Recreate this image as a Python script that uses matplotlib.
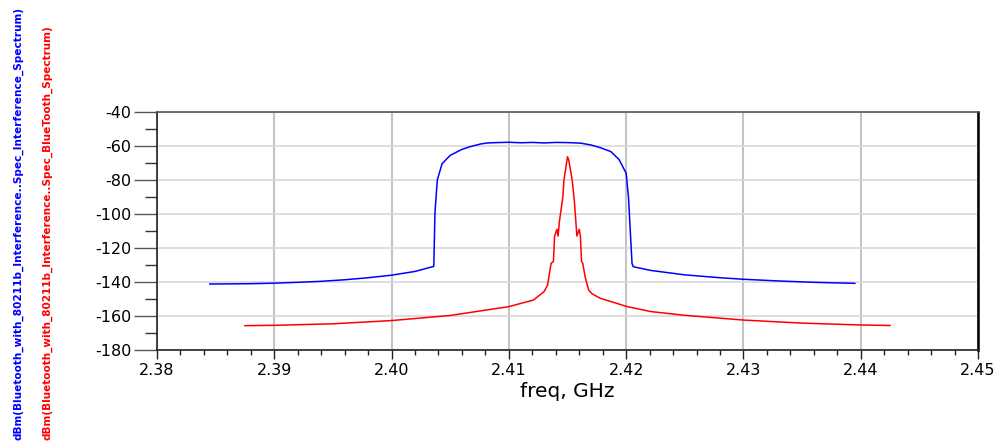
import matplotlib
matplotlib.use("Agg")
import matplotlib.pyplot as plt
from matplotlib.ticker import MultipleLocator, FormatStrFormatter

# interference (802.11b) spectrum, blue
blue_freq = [2.3845, 2.3880, 2.3900, 2.3920, 2.3940, 2.3960, 2.3980, 2.4000, 2.4020, 2.4036,
             2.4037, 2.4039, 2.4043, 2.4050, 2.4060, 2.4067, 2.4076, 2.4082, 2.4090, 2.4100,
             2.4110, 2.4120, 2.4130, 2.4140, 2.4150, 2.4161, 2.4170, 2.4178, 2.4187, 2.4194,
             2.4200, 2.4202, 2.4205, 2.4206, 2.4210, 2.4221, 2.4250, 2.4280, 2.4300, 2.4330,
             2.4360, 2.4395]
blue_dbm = [-141.2, -141.0, -140.7, -140.2, -139.6, -138.7, -137.5, -136.0, -133.8, -130.8,
            -99.0, -80.0, -70.5, -65.5, -62.0, -60.4, -58.8, -58.2, -58.0, -57.8,
            -58.1, -57.9, -58.2, -57.9, -58.0, -58.3, -59.4, -61.0, -63.3, -68.0,
            -76.0, -90.0, -129.0, -131.0, -131.6, -133.2, -135.8, -137.5, -138.4, -139.4,
            -140.2, -140.8]

# bluetooth spectrum, red
red_freq = [2.3875, 2.3900, 2.3950, 2.4000, 2.4050, 2.4100, 2.4121, 2.4130, 2.4133, 2.4136,
            2.4138, 2.4139, 2.4141, 2.4142, 2.4143, 2.4146, 2.4147, 2.4150, 2.4151, 2.4154,
            2.4156, 2.4158, 2.4160, 2.4161, 2.4162, 2.4163, 2.4165, 2.4168, 2.4171, 2.4178,
            2.4201, 2.4221, 2.4250, 2.4300, 2.4350, 2.4400, 2.4425]
red_dbm = [-165.7, -165.5, -164.6, -162.7, -159.7, -154.5, -150.6, -145.7, -141.8, -129.0,
           -128.0, -113.0, -109.0, -113.0, -105.0, -90.0, -80.0, -66.3, -68.0, -80.0,
           -93.7, -113.0, -109.0, -113.0, -128.0, -129.0, -136.9, -144.7, -147.0, -149.6,
           -154.5, -157.4, -159.6, -162.4, -164.2, -165.3, -165.6]

blue_label = "dBm(Bluetooth_with_80211b_Interference..Spec_Interference_Spectrum)"
red_label = "dBm(Bluetooth_with_80211b_Interference..Spec_BlueTooth_Spectrum)"

plt.rcParams["font.family"] = ["DejaVu Sans"]
plt.rcParams["axes.unicode_minus"] = False

fig = plt.figure(figsize=(10, 4.48), dpi=100)
ax = fig.add_axes([0.157, 0.2188, 0.821, 0.5312])

ax.plot(blue_freq, blue_dbm, color="#0000ff", lw=1.1)
ax.plot(red_freq, red_dbm, color="#ff0000", lw=1.1)

ax.set_xlim(2.38, 2.45)
ax.set_ylim(-180, -40)
ax.xaxis.set_major_locator(MultipleLocator(0.01))
ax.xaxis.set_minor_locator(MultipleLocator(0.002))
ax.yaxis.set_major_locator(MultipleLocator(20))
ax.yaxis.set_minor_locator(MultipleLocator(10))
ax.xaxis.set_major_formatter(FormatStrFormatter("%.2f"))

ax.grid(axis="x", which="major", color="#c4c4c4", lw=1.5)
ax.grid(axis="y", which="major", color="#d8d8d8", lw=1.2)
ax.set_axisbelow(True)

ax.tick_params(axis="y", which="major", length=16.5, width=1.0, color="#555555",
               labelsize=11.5, pad=2)
ax.tick_params(axis="y", which="minor", length=8.5, width=1.0, color="#333333")
ax.tick_params(axis="x", which="major", length=6.5, width=1.0, color="#222222",
               labelsize=11.5, pad=3)
ax.tick_params(axis="x", which="minor", length=3.5, width=1.0, color="#222222")

for side in ["left", "bottom"]:
    ax.spines[side].set_color("#222222")
    ax.spines[side].set_linewidth(1.2)
ax.spines["top"].set_color("#555555")
ax.spines["top"].set_linewidth(1.2)
ax.spines["right"].set_color("black")
ax.spines["right"].set_linewidth(1.8)

ax.set_xlabel("freq, GHz", fontsize=14.5, labelpad=3)

side_font = ["Liberation Sans Narrow", "DejaVu Sans"]
t_blue = fig.text(0.018, 0.018, blue_label, rotation=90, color="#0000ff", fontsize=9,
                  ha="center", va="bottom", family=side_font, weight="bold")
t_red = fig.text(0.047, 0.018, red_label, rotation=90, color="#ff0000", fontsize=9,
                 ha="center", va="bottom", family=side_font, weight="bold")

# squeeze the long side labels to the length they have in the original
renderer = fig.canvas.get_renderer()
for t, target in [(t_blue, 428), (t_red, 412)]:
    h = t.get_window_extent(renderer).height
    t.set_fontsize(9 * target / h)

fig.savefig("out.png", dpi=100)
plt.close()
